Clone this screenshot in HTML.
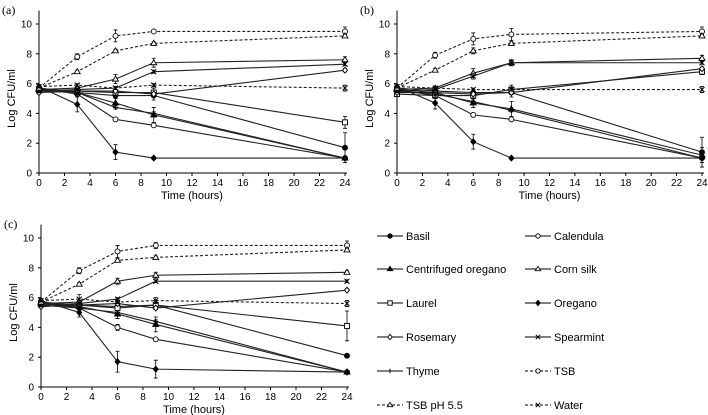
<!DOCTYPE html>
<html><head><meta charset="utf-8"><style>
body{margin:0;background:#fff;}
svg{display:block;font-family:"Liberation Sans",sans-serif;}
</style></head><body>
<svg id="chart" width="708" height="415" viewBox="0 0 708 415" xmlns="http://www.w3.org/2000/svg"></svg>
<script>
const times = [0, 3, 6, 9, 24];
const xTicks = [0, 2, 4, 6, 8, 10, 12, 14, 16, 18, 20, 22, 24];
const yTicks = [0, 2, 4, 6, 8, 10];
const seriesNames = ["Basil","Calendula","Centrifuged oregano","Corn silk","Laurel","Oregano","Rosemary","Spearmint","Thyme","TSB","TSB pH 5.5","Water"];
const panelA = [
  [5.7,5.4,5.2,5.2,1.7],[5.7,5.3,3.6,3.2,1.0],[5.6,5.4,4.7,3.9,1.0],[5.6,5.7,6.3,7.4,7.6],
  [5.6,5.5,5.4,5.4,3.4],[5.8,4.6,1.4,1.0,1.0],[5.4,5.5,5.5,5.3,6.9],[5.5,5.6,5.7,6.8,7.3],
  [5.5,5.4,4.4,4.0,1.0],[5.7,7.8,9.2,9.5,9.5],[5.7,6.8,8.2,8.7,9.2],[5.8,5.9,5.7,5.9,5.7]];
const panelB = [
  [5.7,5.5,5.4,5.4,1.4],[5.6,5.2,3.9,3.6,1.0],[5.6,5.4,4.7,4.3,1.2],[5.6,5.7,6.7,7.4,7.7],
  [5.3,5.2,5.2,5.6,6.8],[5.8,4.7,2.1,1.0,1.0],[5.4,5.4,5.3,5.4,7.0],[5.5,5.6,6.5,7.4,7.4],
  [5.5,5.3,4.8,4.2,1.0],[5.7,7.9,9.0,9.3,9.5],[5.7,6.9,8.2,8.7,9.2],[5.8,5.7,5.6,5.6,5.6]];
const panelC = [
  [5.7,5.5,5.4,5.5,2.1],[5.7,5.3,4.0,3.2,1.0],[5.6,5.4,4.9,4.2,1.0],[5.6,5.7,7.1,7.5,7.7],
  [5.6,5.5,5.3,5.5,4.1],[5.8,5.0,1.7,1.2,1.0],[5.4,5.5,5.6,5.3,6.5],[5.5,5.6,5.9,7.1,7.1],
  [5.5,5.3,5.0,4.4,1.0],[5.7,7.8,9.1,9.5,9.5],[5.7,6.9,8.5,8.7,9.2],[5.8,5.9,5.7,5.8,5.6]];
const errA = [[0.1,0.2,0.2,0.3,1.0],[0.1,0.1,0.1,0.1,0.1],[0.1,0.2,0.3,0.5,0.1],[0.1,0.1,0.3,0.3,0.2],[0.1,0.2,0.2,0.3,0.4],[0.1,0.5,0.5,0.1,0.1],[0.1,0.1,0.1,0.1,0.1],[0.1,0.1,0.1,0.1,0.1],[0.1,0.1,0.1,0.1,0.1],[0.1,0.2,0.4,0.1,0.3],[0.1,0.1,0.1,0.1,0.1],[0.1,0.1,0.1,0.1,0.2]];
const errB = [[0.1,0.2,0.2,0.3,1.0],[0.1,0.1,0.1,0.1,0.1],[0.1,0.2,0.3,0.5,0.5],[0.1,0.1,0.3,0.2,0.2],[0.1,0.2,0.2,0.3,0.2],[0.1,0.4,0.5,0.1,0.1],[0.1,0.1,0.1,0.1,0.1],[0.1,0.1,0.2,0.2,0.1],[0.1,0.1,0.1,0.1,0.1],[0.1,0.2,0.4,0.4,0.3],[0.1,0.1,0.2,0.1,0.1],[0.1,0.1,0.1,0.1,0.2]];
const errC = [[0.1,0.2,0.2,0.3,0.1],[0.1,0.1,0.2,0.1,0.1],[0.1,0.2,0.3,0.5,0.1],[0.1,0.1,0.2,0.2,0.1],[0.1,0.2,0.2,0.3,1.0],[0.1,0.3,0.7,0.6,0.1],[0.1,0.1,0.1,0.1,0.1],[0.1,0.1,0.1,0.1,0.1],[0.1,0.1,0.1,0.1,0.1],[0.1,0.2,0.4,0.2,0.3],[0.1,0.1,0.1,0.1,0.1],[0.1,0.3,0.1,0.2,0.2]];
const markerTypes = ["fcircle","ocircle","ftri","otri","osquare","fdiamond","odiamond","x","plus","ocircle","otri","x"];

const NS = "http://www.w3.org/2000/svg";
const svg = document.getElementById("chart");
function mk(tag, attrs, parent){ const e=document.createElementNS(NS,tag); for(const k in attrs) e.setAttribute(k,attrs[k]); (parent||svg).appendChild(e); return e; }

function marker(g, type, cx, cy, s){
  let e;
  const filled = type[0]==="f";
  const fill = filled ? "#000" : "#fff";
  if(type.endsWith("circle")) e=mk("circle",{cx,cy,r:s,fill,stroke:"#000","stroke-width":0.9},g);
  else if(type.endsWith("tri")) e=mk("polygon",{points:`${cx},${cy-s-0.5} ${cx+s+0.5},${cy+s-0.5} ${cx-s-0.5},${cy+s-0.5}`,fill,stroke:"#000","stroke-width":0.9},g);
  else if(type.endsWith("square")) e=mk("rect",{x:cx-s,y:cy-s,width:2*s,height:2*s,fill,stroke:"#000","stroke-width":0.9},g);
  else if(type.endsWith("diamond")) e=mk("polygon",{points:`${cx},${cy-s-0.5} ${cx+s},${cy} ${cx},${cy+s+0.5} ${cx-s},${cy}`,fill,stroke:"#000","stroke-width":0.9},g);
  else if(type==="x") e=mk("path",{d:`M${cx-s},${cy-s}L${cx+s},${cy+s}M${cx+s},${cy-s}L${cx-s},${cy+s}`,stroke:"#000","stroke-width":1},g);
  else e=mk("path",{d:`M${cx-s},${cy}L${cx+s},${cy}M${cx},${cy-s}L${cx},${cy+s}`,stroke:"#000","stroke-width":1},g);
  
  
}

function panel(label, L, R, Y0, Y10, data, errs){
  const g = mk("g",{});
  
  
  const xs = t => L + (R-L)*t/24;
  const ys = v => Y0 - (Y0-Y10)*v/10;
  const t = mk("text",{x:L-37,y:Y10-10,"font-size":12,"font-family":"Liberation Serif, serif"},g); t.textContent="("+label+")";
   
  const ax = mk("path",{d:`M${L},${ys(10.9)}L${L},${Y0}L${R+2},${Y0}`,fill:"none",stroke:"#000","stroke-width":1},g);
   
  xTicks.forEach(v=>{
    mk("line",{x1:xs(v),x2:xs(v),y1:Y0,y2:Y0+3,stroke:"#000"},g);
    const tl=mk("text",{x:xs(v),y:Y0+13,"font-size":10,"text-anchor":"middle"},g); tl.textContent=v;
     
  });
  yTicks.forEach(v=>{
    mk("line",{x1:L-3,x2:L,y1:ys(v),y2:ys(v),stroke:"#000"},g);
    const tl=mk("text",{x:L-7,y:ys(v)+3.5,"font-size":10,"text-anchor":"end"},g); tl.textContent=v;
     
  });
  const xt=mk("text",{x:(L+R)/2,y:Y0+26,"font-size":11,"text-anchor":"middle"},g); xt.textContent="Time (hours)";
   
  const yc=(Y0+Y10)/2;
  const yt=mk("text",{x:L-24,y:yc,"font-size":11,"text-anchor":"middle",transform:`rotate(-90 ${L-24} ${yc})`},g); yt.textContent="Log CFU/ml";
   
  data.forEach((vals,i)=>{
    const dashed = i>=9;
    const sg = mk("g",{},g);
    
    
    const d = vals.map((v,j)=>(j?"L":"M")+xs(times[j])+","+ys(v)).join("");
    const p = mk("path",{d,fill:"none",stroke:"#222","stroke-width":1.1,"stroke-dasharray":dashed?"3,2":"none"},sg);
     
    vals.forEach((v,j)=>{
      const e=errs[i][j], x=xs(times[j]);
      const eb=mk("path",{d:`M${x},${ys(v-e)}L${x},${ys(v+e)}M${x-2},${ys(v-e)}L${x+2},${ys(v-e)}M${x-2},${ys(v+e)}L${x+2},${ys(v+e)}`,stroke:"#000","stroke-width":0.8},sg);
       
    });
    vals.forEach((v,j)=>marker(sg, markerTypes[i], xs(times[j]), ys(v), 2.5));
  });
}
panel("a", 39, 345, 173, 24, panelA, errA);
panel("b", 397, 702, 173, 24, panelB, errB);
panel("c", 41, 347, 387, 238, panelC, errC);

// legend
const lg = mk("g",{});


const rowsY=[236,269,303,337,371,405];
seriesNames.forEach((n,i)=>{
  const col=i%2, row=Math.floor(i/2);
  const x1 = col? 525:377, y=rowsY[row];
  const eg = mk("g",{},lg);
  
  
  mk("line",{x1,x2:x1+26,y1:y,y2:y,stroke:"#000","stroke-width":1,"stroke-dasharray":i>=9?"3,2":"none"},eg);
  marker(eg, markerTypes[i], x1+13, y, 2.2);
  const tx=mk("text",{x:x1+29,y:y+4,"font-size":11},eg); tx.textContent=n;
   
});
</script>
</body></html>
